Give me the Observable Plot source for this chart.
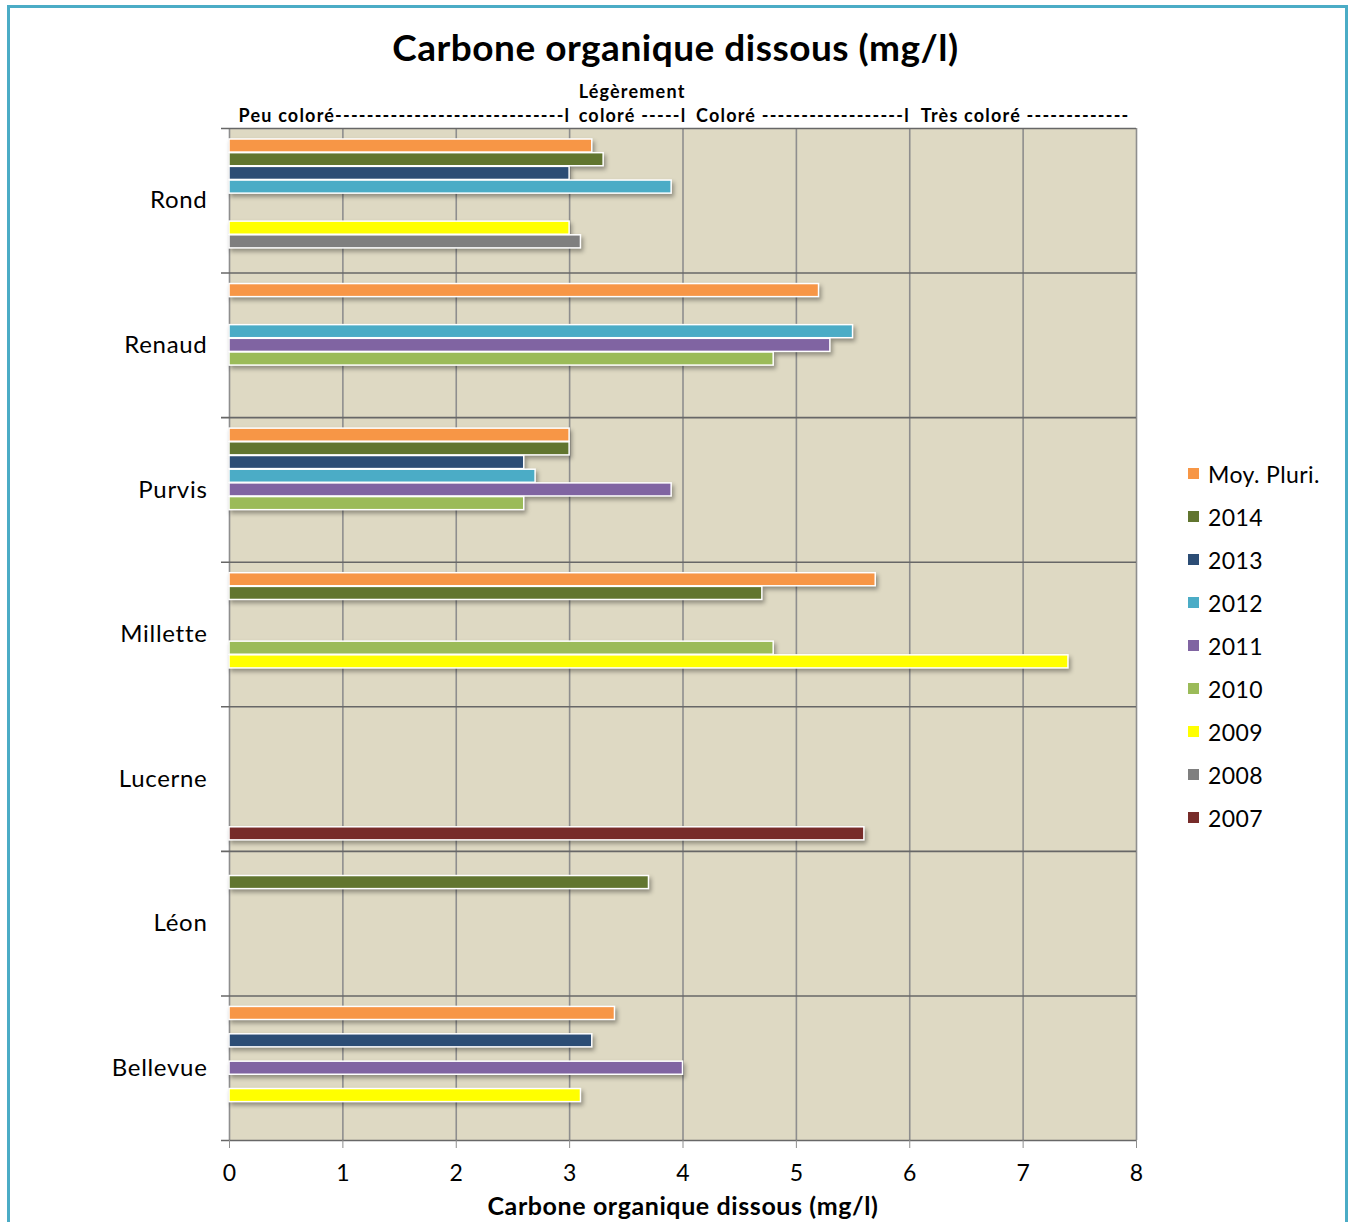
<!DOCTYPE html>
<html>
<head>
<meta charset="utf-8">
<script src="https://cdn.jsdelivr.net/npm/d3@7"></script>
<script src="https://cdn.jsdelivr.net/npm/@observablehq/plot@0.6"></script>
<style>
  body { margin: 0; background: #fff; font-family: Lato, "DejaVu Sans", sans-serif; }
  #border { position: absolute; left: 7px; top: 5px; width: 1335px; height: 1260px; border: 3px solid #4BACC6; }
  #title { position: absolute; top: 24px; left: 0; width: 1351px; text-align: center; font: bold 37px Lato, sans-serif; letter-spacing: 0.5px; color: #000; }
  #chart { position: absolute; left: 0; top: 76px; }
  #chart g[aria-label="rect"] { filter: drop-shadow(2px 3px 2px rgba(0,0,0,0.35)); }
  /* wider lettering for the header, lake names and axis title */
  #chart g[font-size="18"] { letter-spacing: 1.2px; }
  #chart g[font-size="24"] { letter-spacing: 0.7px; }
  #chart g[font-size="25"] { letter-spacing: 0.6px; }
  #legend { position: absolute; left: 1188px; top: 452px; }
  #legend .row { height: 43px; display: flex; align-items: center; font-size: 23px; letter-spacing: 0.4px; color: #000; }
  #legend .sw { width: 11px; height: 11px; margin-right: 9px; }
</style>
</head>
<body>
<div id="border"></div>
<div id="title">Carbone organique dissous (mg/l)</div>
<div id="chart"></div>
<div id="legend"></div>
<script>
// Lakes, top to bottom
const sites = ["Rond", "Renaud", "Purvis", "Millette", "Lucerne", "Léon", "Bellevue"];
// Series, in the order the bars appear inside each lake
const series = ["Moy. Pluri.", "2014", "2013", "2012", "2011", "2010", "2009", "2008", "2007"];
const seriesColors = ["#F79646", "#61752F", "#2C4D75", "#4BACC6", "#8064A2", "#9BBB59", "#FFFF00", "#7F7F7F", "#772C2A"];

// Dissolved organic carbon (mg/l) per lake, one value per series (null = not sampled)
const rond     = [3.2, 3.3, 3.0, 3.9, null, null, 3.0, 3.1, null];
const renaud   = [5.2, null, null, 5.5, 5.3, 4.8, null, null, null];
const purvis   = [3.0, 3.0, 2.6, 2.7, 3.9, 2.6, null, null, null];
const millette = [5.7, 4.7, null, null, null, 4.8, 7.4, null, null];
const lucerne  = [null, null, null, null, null, null, null, null, 5.6];
const leon     = [null, 3.7, null, null, null, null, null, null, null];
const bellevue = [3.4, null, 3.2, null, 4.0, null, 3.1, null, null];
const siteValues = [rond, renaud, purvis, millette, lucerne, leon, bellevue];

// Colour classes and the concentration where each one begins
const classLabels = [
  "Peu coloré-----------------------------l",
  "Légèrement\ncoloré -----l",
  "Coloré ------------------l",
  "Très coloré -------------"
];
const classStarts = [0, 3, 4, 6];
const classOffsets = [9, 9, 13, 11];

const xTicks = [0, 1, 2, 3, 4, 5, 6, 7, 8];
const axisTitle = "Carbone organique dissous (mg/l)";

// Each lake gets one slot per series plus some padding above and below
const pad = 0.78;
const groupSpan = series.length + 2 * pad;

const bars = [];
siteValues.forEach((vals, g) => {
  vals.forEach((v, s) => {
    if (v != null) bars.push({site: sites[g], series: series[s], value: v, slot: g * groupSpan + pad + s});
  });
});

const classes = classLabels.map((label, i) => ({label, start: classStarts[i], offset: classOffsets[i]}));

const chart = Plot.plot({
  width: 1351,
  height: 1146,
  marginLeft: 229,
  marginRight: 215,
  marginTop: 52,
  marginBottom: 82,
  style: {fontFamily: "Lato, sans-serif", fontSize: "22px", color: "#000", background: "transparent"},
  x: {domain: [0, 8]},
  y: {domain: [0, sites.length * groupSpan], reverse: true, axis: null},
  color: {domain: series, range: seriesColors},
  marks: [
    Plot.frame({fill: "#DED9C3", stroke: null}),
    Plot.ruleX(xTicks, {stroke: "#8e8e8e", strokeWidth: 1.6}),
    Plot.ruleY(d3.range(sites.length + 1).map(i => i * groupSpan), {stroke: "#676767", strokeWidth: 1.6, insetLeft: -8}),
    Plot.rect(bars, {
      x1: 0, x2: "value",
      y1: "slot", y2: d => d.slot + 1,
      fill: "series",
      stroke: "#ffffff", strokeWidth: 1.5,
      insetTop: 0.3, insetBottom: 0.3
    }),
    Plot.axisX({ticks: xTicks, tickSize: 8, tickPadding: 16, stroke: "#8e8e8e", fontSize: 23, label: null, tickFormat: d => d}),
    Plot.text(sites, {x: 0, y: (d, i) => (i + 0.5) * groupSpan, text: d => d, textAnchor: "end", dx: -22, fontSize: 24}),
    Plot.text([axisTitle], {frameAnchor: "bottom", dy: 74, fontWeight: "bold", fontSize: 25, text: d => d}),
    // one text mark per class so each can carry its own small offset from the threshold
    ...classes.map(c => Plot.text([c], {
      x: "start", text: "label", frameAnchor: "top", lineAnchor: "bottom",
      textAnchor: "start", dx: c.offset, dy: -7, fontWeight: "bold", fontSize: 18, lineHeight: 1.33
    }))
  ]
});
document.getElementById("chart").appendChild(chart);

// Legend on the right
const legend = d3.select("#legend");
series.forEach((s, i) => {
  const row = legend.append("div").attr("class", "row");
  row.append("div").attr("class", "sw").style("background", seriesColors[i]);
  row.append("span").text(s);
});
</script>
</body>
</html>
